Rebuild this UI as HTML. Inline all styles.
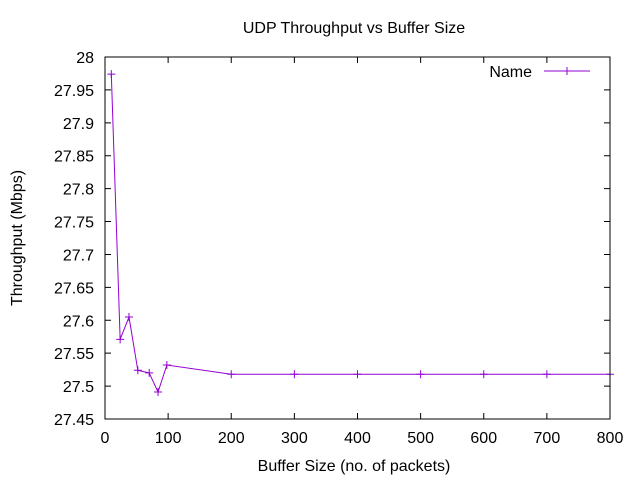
<!DOCTYPE html>
<html><head><meta charset="utf-8"><style>
body{margin:0;background:#fff}
svg{display:block;font-family:"Liberation Sans",sans-serif;font-size:16px}
</style></head><body>
<svg id="chart" width="640" height="480">
<rect x="0" y="0" width="640" height="480" fill="#fff"/>
<text x="354" y="33" text-anchor="middle">UDP Throughput vs Buffer Size</text>
<text x="354" y="471" text-anchor="middle">Buffer Size (no. of packets)</text>
<text transform="translate(22,238) rotate(-90)" text-anchor="middle">Throughput (Mbps)</text>
<g id="axes"></g>
<g id="series"></g>
<rect x="105" y="57" width="505" height="362" fill="none" stroke="#000" stroke-width="1"/>
<g>
<text x="532" y="77" text-anchor="end">Name</text>
<line x1="544" y1="71" x2="590" y2="71" stroke="#9400d3"/>
<path d="M563 71h8M567 67v8" stroke="#9400d3"/>
</g>
</svg>
<script>
const xVals=[10,24,38,52,70,84,98,200,300,400,500,600,700,800];
const yVals=[27.974,27.571,27.605,27.524,27.52,27.491,27.532,27.518,27.518,27.518,27.518,27.518,27.518,27.518];
const xTicks=[0,100,200,300,400,500,600,700,800];
const yTicks=[27.45,27.5,27.55,27.6,27.65,27.7,27.75,27.8,27.85,27.9,27.95,28];
const yLabels=["27.45","27.5","27.55","27.6","27.65","27.7","27.75","27.8","27.85","27.9","27.95","28"];
const L=105,R=610,T=57,B=419;
const xs=v=>L+(v-0)/800*(R-L);
const ys=v=>B-(v-27.45)/0.55*(B-T);
const NS="http://www.w3.org/2000/svg";
const ax=document.getElementById('axes'),se=document.getElementById('series');
function mk(tag,a,p){const e=document.createElementNS(NS,tag);for(const k in a)e.setAttribute(k,a[k]);p.appendChild(e);return e;}
xTicks.forEach(t=>{const x=xs(t);
const l=mk('path',{d:`M${x} ${B}v-6M${x} ${T}v6`,stroke:'#000'},ax);


const tx=mk('text',{x:x,y:B+24,'text-anchor':'middle'},ax);tx.textContent=t;

});
yTicks.forEach((t,i)=>{const y=ys(t);
const l=mk('path',{d:`M${L} ${y}h6M${R} ${y}h-6`,stroke:'#000'},ax);


const tx=mk('text',{x:L-11,y:y+6,'text-anchor':'end'},ax);tx.textContent=yLabels[i];

});
const pts=xVals.map((v,i)=>[xs(v),ys(yVals[i])]);
const pl=mk('polyline',{points:pts.map(p=>p.join(',')).join(' '),fill:'none',stroke:'#9400d3','stroke-width':1},se);


pts.forEach(p=>{const m=mk('path',{d:`M${p[0]-4} ${p[1]}h8M${p[0]} ${p[1]-4}v8`,stroke:'#9400d3'},se);

});
</script>
</body></html>
